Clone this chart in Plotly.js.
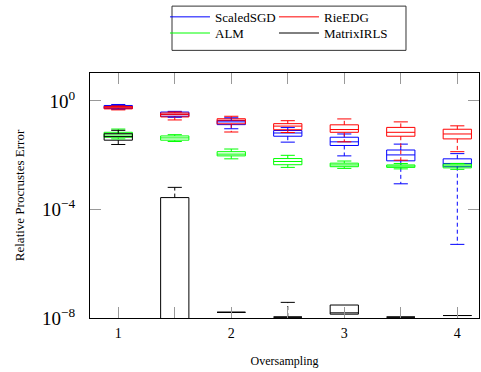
<!DOCTYPE html>
<html>
<head>
<meta charset="utf-8">
<script src="https://cdn.plot.ly/plotly-3.0.1.min.js"></script>
<style>html,body{margin:0;padding:0;background:#fff;}#chart{width:481px;height:372px;}</style>
</head>
<body>
<div id="chart"></div>
<script>
// Oversampling positions
const positions = [1, 1.5, 2, 2.5, 3, 3.5, 4];
const xTickVals = [1, 2, 3, 4];
const xTickLabels = ['1', '2', '3', '4'];

// Box statistics, stored as log10 of the relative Procrustes error
const scaledSGD_lower  = [-0.31, -0.60, -1.025, -1.518, -2.025, -3.054, -5.286];
const scaledSGD_q1     = [-0.275, -0.565, -0.873, -1.30, -1.641, -2.207, -2.424];
const scaledSGD_median = [-0.221, -0.493, -0.772, -1.181, -1.507, -1.989, -2.304];
const scaledSGD_q3     = [-0.167, -0.409, -0.721, -1.09, -1.337, -1.808, -2.134];
const scaledSGD_upper  = [-0.13, -0.384, -0.62, -0.982, -1.217, -1.591, -1.942];

const rieEDG_lower  = [-0.33, -0.70, -1.145, -1.163, -1.507, -2.185, -1.87];
const rieEDG_q1     = [-0.293, -0.59, -0.844, -1.062, -1.156, -1.30, -1.399];
const rieEDG_median = [-0.25, -0.504, -0.71, -0.928, -1.054, -1.156, -1.217];
const rieEDG_q3     = [-0.203, -0.446, -0.656, -0.837, -0.88, -0.975, -1.043];
const rieEDG_upper  = [-0.185, -0.41, -0.565, -0.728, -0.663, -0.772, -0.917];

const alm_lower  = [-1.40, -1.496, -2.134, -2.449, -2.486, -2.504, -2.522];
const alm_q1     = [-1.337, -1.446, -2.025, -2.351, -2.424, -2.449, -2.467];
const alm_median = [-1.254, -1.362, -1.96, -2.232, -2.359, -2.402, -2.395];
const alm_q3     = [-1.156, -1.29, -1.87, -2.123, -2.293, -2.359, -2.33];
const alm_upper  = [-1.036, -1.243, -1.772, -2.004, -2.214, -2.304, -2.304];

const irls_lower  = [-1.605, -11, -7.79, -7.967, -7.859, -7.967, -7.909];
const irls_q1     = [-1.446, -10, -7.79, -7.967, -7.859, -7.967, -7.909];
const irls_median = [-1.315, -9, -7.79, -7.967, -7.81, -7.967, -7.909];
const irls_q3     = [-1.207, -3.562, -7.79, -7.967, -7.522, -7.967, -7.909];
const irls_upper  = [-1.083, -3.185, -7.79, -7.424, -7.522, -7.967, -7.909];

const yTickVals = [1e-8, 1e-4, 1];
const yTickText = ['10<sup>\u22128</sup>', '10<sup>\u22124</sup>', '10<sup>0</sup>'];

const seriesNames = ['ScaledSGD', 'RieEDG', 'ALM', 'MatrixIRLS'];
const seriesColors = ['#0000ff', '#ff0000', '#00ff00', '#000000'];
const seriesLegend = ['legend', 'legend2', 'legend3', 'legend4'];
const seriesStats = [
  [scaledSGD_lower, scaledSGD_q1, scaledSGD_median, scaledSGD_q3, scaledSGD_upper],
  [rieEDG_lower, rieEDG_q1, rieEDG_median, rieEDG_q3, rieEDG_upper],
  [alm_lower, alm_q1, alm_median, alm_q3, alm_upper],
  [irls_lower, irls_q1, irls_median, irls_q3, irls_upper]
];

const BOX_W = 0.25;
const CAP_HALF = BOX_W / 4;
const pow10 = a => a.map(v => Math.pow(10, v));

const traces = [];
seriesStats.forEach((st, k) => {
  const [lo, q1, md, q3, up] = st.map(pow10);
  const color = seriesColors[k];
  traces.push({
    type: 'box', x: positions, q1: q1, median: md, q3: q3,
    lowerfence: q1, upperfence: q3, width: BOX_W,
    fillcolor: 'rgba(0,0,0,0)', line: {color: color, width: 1},
    boxpoints: false, showlegend: false, hoverinfo: 'skip', whiskerwidth: 0
  });
  const wx = [], wy = [], cx = [], cy = [];
  positions.forEach((p, i) => {
    if (up[i] > q3[i]) { wx.push(p, p, null); wy.push(q3[i], up[i], null);
      cx.push(p - CAP_HALF, p + CAP_HALF, null); cy.push(up[i], up[i], null); }
    if (lo[i] < q1[i]) { wx.push(p, p, null); wy.push(q1[i], lo[i], null);
      cx.push(p - CAP_HALF, p + CAP_HALF, null); cy.push(lo[i], lo[i], null); }
  });
  traces.push({
    type: 'scatter', mode: 'lines', x: wx, y: wy, connectgaps: false,
    line: {color: color, width: 1, dash: '4px,3px'}, showlegend: false, hoverinfo: 'skip'
  });
  traces.push({
    type: 'scatter', mode: 'lines', x: cx, y: cy, connectgaps: false, name: seriesNames[k],
    line: {color: color, width: 1}, showlegend: true, legend: seriesLegend[k], hoverinfo: 'skip'
  });
});

const serif = '"Liberation Serif", "Times New Roman", serif';
const legendCommon = {
  orientation: 'h', xanchor: 'left', yanchor: 'middle',
  bgcolor: 'rgba(0,0,0,0)', borderwidth: 0, itemwidth: 40,
  font: {family: serif, size: 13, color: '#000'}, itemclick: false
};
const col1X = 0.1928, col2X = 0.473, row1Y = 1.229, row2Y = 1.163;

const layout = {
  width: 481, height: 372,
  margin: {l: 90, r: 2, t: 69, b: 54},
  paper_bgcolor: '#fff', plot_bgcolor: '#fff',
  font: {family: serif, size: 13, color: '#000'},
  boxmode: 'overlay',
  xaxis: {
    range: [0.75, 4.192], tickvals: xTickVals, ticktext: xTickLabels,
    ticks: 'inside', ticklen: 11, tickcolor: '#999', tickwidth: 1,
    minor: {dtick: 0.5, tick0: 0, ticks: 'inside', ticklen: 11, tickcolor: '#999', tickwidth: 1, showgrid: false},
    showline: true, linecolor: '#000', linewidth: 1, mirror: 'ticks',
    showgrid: false, zeroline: false, ticklabelstandoff: 2,
    tickfont: {family: serif, size: 14, color: '#000'},
    title: {text: 'Oversampling', font: {family: serif, size: 12, color: '#000'}, standoff: 16}
  },
  yaxis: {
    type: 'log', range: [-8, 1.03], tickvals: yTickVals, ticktext: yTickText,
    ticks: 'inside', ticklen: 11, tickcolor: '#999', tickwidth: 1,
    showline: true, linecolor: '#000', linewidth: 1, mirror: 'ticks',
    showgrid: false, zeroline: false, ticklabelstandoff: 10,
    tickfont: {family: serif, size: 19, color: '#000'},
    title: {text: 'Relative Procrustes Error', font: {family: serif, size: 13, color: '#000'}, standoff: 14}
  },
  legend:  Object.assign({}, legendCommon, {x: col1X, y: row1Y}),
  legend2: Object.assign({}, legendCommon, {x: col2X, y: row1Y}),
  legend3: Object.assign({}, legendCommon, {x: col1X, y: row2Y}),
  legend4: Object.assign({}, legendCommon, {x: col2X, y: row2Y}),
  shapes: [{
    type: 'rect', xref: 'paper', yref: 'paper',
    x0: 0.2108, x1: 0.8123, y0: 1.0924, y1: 1.273,
    line: {color: '#333', width: 1}, fillcolor: 'rgba(0,0,0,0)', layer: 'above'
  }],
  showlegend: true
};

Plotly.newPlot('chart', traces, layout, {staticPlot: true, displayModeBar: false});
</script>
</body>
</html>
